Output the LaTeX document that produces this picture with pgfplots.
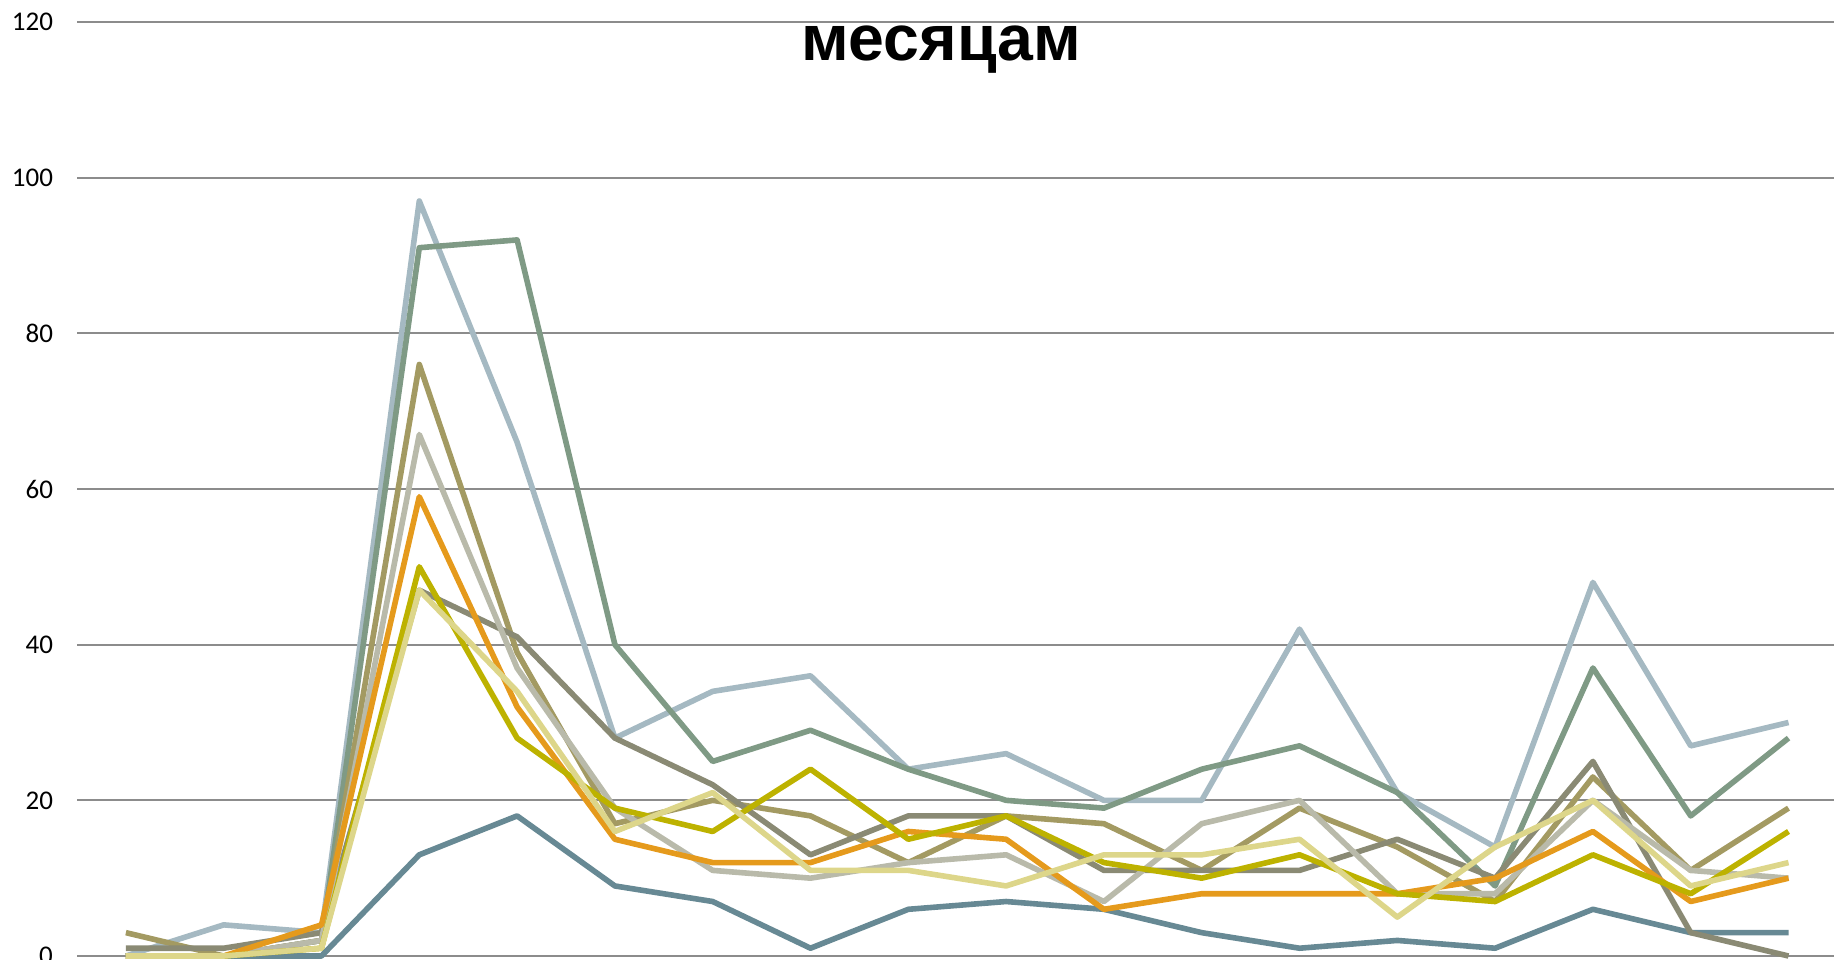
\documentclass[border=0pt]{standalone}
\usepackage{fontspec}
\setmainfont{Carlito}
\newfontfamily\titlefont{Liberation Sans}
\usepackage{pgfplots}
\usepackage{pgfplotstable}
\pgfplotsset{compat=1.18}
\definecolor{cdb}{HTML}{678994}
\definecolor{clb}{HTML}{A5B9C2}
\definecolor{cgg}{HTML}{7F9A85}
\definecolor{ckh}{HTML}{A39A62}
\definecolor{cgb}{HTML}{8A8A74}
\definecolor{clg}{HTML}{B9BAAA}
\definecolor{cor}{HTML}{E59A1C}
\definecolor{coy}{HTML}{BDB200}
\definecolor{cpy}{HTML}{DDD68A}
\definecolor{gridgray}{HTML}{8C8C8C}
\pgfplotstableread{
i db lb gg kh gb lg or oy py
0 0 0 0 3 1 0 0 0 0
1 0 4 0 0 1 0 0 0 0
2 0 3 2 2 3 2 4 1 1
3 13 97 91 76 47 67 59 50 47
4 18 66 92 39 41 37 32 28 34
5 9 28 40 17 28 19 15 19 16
6 7 34 25 20 22 11 12 16 21
7 1 36 29 18 13 10 12 24 11
8 6 24 24 12 18 12 16 15 11
9 7 26 20 18 18 13 15 18 9
10 6 20 19 17 11 7 6 12 13
11 3 20 24 11 11 17 8 10 13
12 1 42 27 19 11 20 8 13 15
13 2 21 21 14 15 8 8 8 5
14 1 14 9 7 10 8 10 7 14
15 6 48 37 23 25 20 16 13 20
16 3 27 18 11 3 11 7 8 9
17 3 30 28 19 0 10 10 16 12
}\datatable
\begin{document}
\begin{tikzpicture}
\begin{scope}
\clip (-38.5pt,-1.5pt) rectangle (878.5pt,478pt);
\begin{axis}[
  at={(0,0)}, anchor=south west,
  scale only axis,
  width=880.2pt, height=467pt,
  xmin=-0.5, xmax=17.5, ymin=0, ymax=120,
  ytick={0,20,...,120}, xtick=\empty,
  ymajorgrids, grid style={color=gridgray, line width=1pt},
  axis line style={draw=none},
  major tick length=0pt,
  /pgf/number format/assume math mode=true,
  yticklabel style={font=\fontsize{13.5}{16}\selectfont, xshift=-8.5pt},
  clip=false,
  every axis plot/.append style={line width=2.8pt, line join=round, mark=none},
]
\addplot[cdb] table[x=i,y=db] {\datatable};
\addplot[clb] table[x=i,y=lb] {\datatable};
\addplot[cgg] table[x=i,y=gg] {\datatable};
\addplot[ckh] table[x=i,y=kh] {\datatable};
\addplot[cgb] table[x=i,y=gb] {\datatable};
\addplot[clg] table[x=i,y=lg] {\datatable};
\addplot[cor] table[x=i,y=or] {\datatable};
\addplot[coy] table[x=i,y=oy] {\datatable};
\addplot[cpy] table[x=i,y=py] {\datatable};
\node[anchor=base, font=\titlefont\bfseries\fontsize{32.2}{38}\selectfont, yshift=-19.5pt] at (rel axis cs:0.4908,1) {месяцам};
\end{axis}
\end{scope}
\pgfresetboundingbox
\path[use as bounding box] (-38.5pt,-1.5pt) rectangle (878.5pt,478pt);
\end{tikzpicture}
\end{document}
